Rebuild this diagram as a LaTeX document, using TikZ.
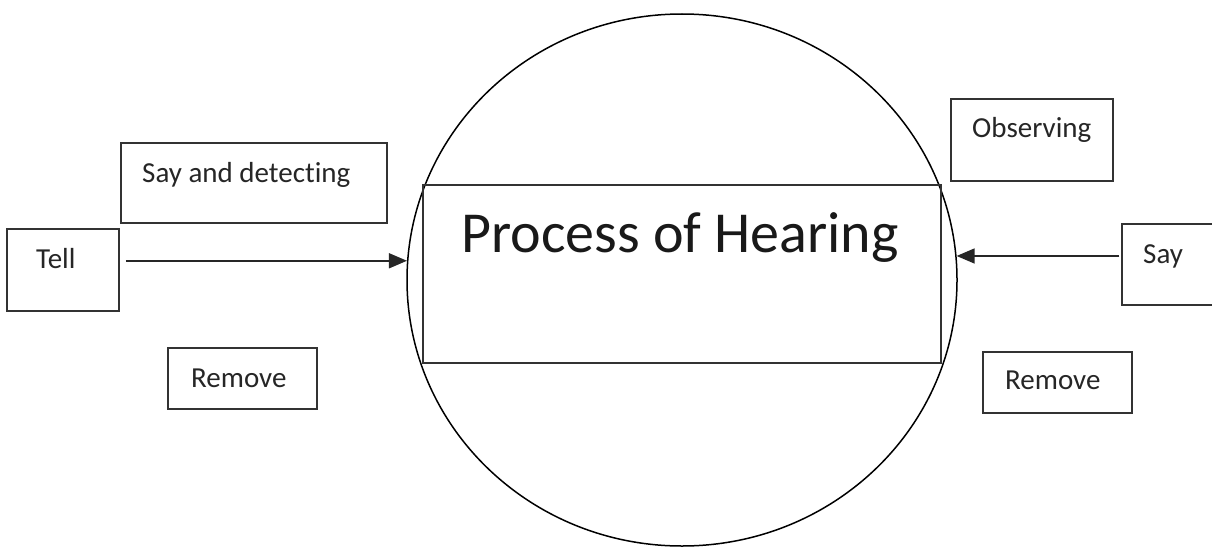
\documentclass[tikz,border=0pt]{standalone}
\usepackage{fontspec}
\setmainfont{Carlito}[Ligatures=NoCommon]
\usetikzlibrary{shapes.geometric,arrows.meta,calc}

\tikzset{
  box/.style={draw=black!80, line width=1.5pt, rectangle, inner sep=0pt},
  lbl/.style={anchor=base west, inner sep=0pt, text=black!85,
              font=\fontsize{29}{35}\selectfont},
  title/.style={anchor=base, inner sep=0pt, text=black!90,
                font=\fontsize{58}{70}\selectfont},
  arr/.style={draw=black!85, line width=1.5pt,
              -{Triangle[length=18pt,width=15pt]}}
}

\begin{document}
\begin{tikzpicture}[x=1pt,y=-1pt]
  \useasboundingbox (0,0) rectangle (1212,551);
  \fill[white] (0,0) rectangle (1212,551);

  % central ellipse and the framed title
  \node[draw=black, line width=1.5pt, ellipse, inner sep=0pt,
        minimum width=550pt, minimum height=532pt] (hear) at (682,280) {};
  \node[box, minimum width=518pt, minimum height=178pt] (frame) at (682,274) {};
  \node[title] (ttl) at (680,252) {Process of Hearing};

  % surrounding boxes
  \node[box, minimum width=266pt, minimum height=80pt] (sad)  at (254,183) {};
  \node[box, minimum width=112pt, minimum height=82pt] (tell) at (63,270) {};
  \node[box, minimum width=162pt, minimum height=82pt] (obs)  at (1032,140) {};
  \node[box, minimum width=96pt,  minimum height=81pt] (say)  at (1170,264.5) {};
  \node[box, minimum width=149pt, minimum height=61pt] (reml) at (242.5,378.5) {};
  \node[box, minimum width=149pt, minimum height=61pt] (remr) at (1057.5,382.5) {};

  % box labels
  \node[lbl] (tsad)  at (142,182)  {Say and detecting};
  \node[lbl] (ttell) at (36,268)   {Tell};
  \node[lbl] (tobs)  at (972,137)  {Observing};
  \node[lbl] (tsay)  at (1143,263) {Say};
  \node[lbl] (treml) at (191,387)  {Remove};
  \node[lbl] (tremr) at (1005,389) {Remove};

  % arrows into the ellipse
  \draw[arr] ($(tell.east |- hear.176.7)+(6,0)$) -- (hear.176.7);
  \draw[arr] ($(say.west |- hear.5.2)+(-2,0)$) -- (hear.5.2);
\end{tikzpicture}
\end{document}
